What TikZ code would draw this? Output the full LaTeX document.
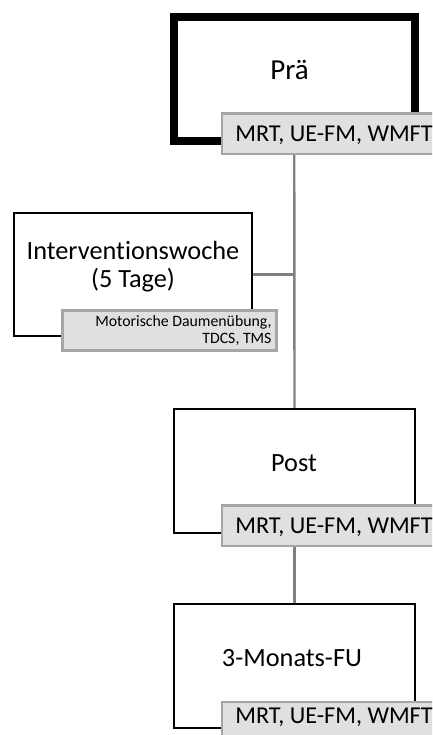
\documentclass[tikz,border=0pt]{standalone}
\usepackage{fontspec}
\setmainfont{Carlito}[Ligatures=NoCommon]
\definecolor{tagfill}{RGB}{224,224,224}
\definecolor{tagline}{RGB}{166,166,166}
\definecolor{linkgray}{RGB}{128,128,128}
\begin{document}
\begin{tikzpicture}[x=1pt,y=-1pt,
  phase/.style={draw=black, line width=2.2pt, fill=white, rectangle, inner sep=0pt,
    minimum width=241pt, minimum height=124pt},
  thickphase/.style={phase, line width=8pt},
  tag/.style={draw=tagline, line width=2.5pt, fill=tagfill, rectangle, inner sep=0pt,
    minimum width=224pt, minimum height=40.5pt},
  link/.style={draw=linkgray, line width=2.4pt},
  bigtext/.style={font=\fontsize{26.3}{28}\selectfont, inner sep=0pt, anchor=base},
  tagtext/.style={font=\fontsize{24.2}{26}\selectfont, inner sep=0pt, anchor=base},
  smalltext/.style={font=\fontsize{15.8}{16.4}\selectfont, inner sep=0pt}
]
\useasboundingbox (0,0) rectangle (432,735);
\clip (0,0) rectangle (432,735);

% phase boxes
\node[thickphase, minimum width=240.5pt, minimum height=124pt] (pre) at (294.25,78.8) {};
\node[phase, minimum width=238pt, minimum height=123pt] (iv) at (133,274.5) {};
\node[phase] (post) at (294.5,471) {};
\node[phase] (fu) at (294.5,666) {};

% connectors
\draw[link] (pre.south) -- (post.north);
\draw[link] (iv.east) -- (iv.east -| pre.south);
\draw[link] (post.south) -- (fu.north);

% box titles (multi-line nodes sit on the baseline of their last line)
\node[bigtext, font=\fontsize{29}{30}\selectfont] (pretxt) at (289.5,80) {Prä};
\node[bigtext, align=center] (ivtxt) at (133,287.3) {Interventionswoche\\(5 Tage)};
\node[bigtext] (posttxt) at (294,471.7) {Post};
\node[bigtext] (futxt) at (292,666.7) {3-Monats-FU};

% measurement tags
\node[tag] (pretag) at (334,133.75) {};
\node[tagtext] at (334,141.7) {MRT, UE-FM, WMFT};
\node[tag, minimum width=214.4pt, minimum height=40.4pt] (ivtag) at (169.5,330.5) {};
\node[smalltext, anchor=base east, align=right] at (271.7,343.1) {Motorische Daumenübung,\\TDCS, TMS};
\node[tag] (posttag) at (334,525.5) {};
\node[tagtext] at (334,533.2) {MRT, UE-FM, WMFT};
\node[tag] (futag) at (334,722.3) {};
\node[tagtext] at (334,723) {MRT, UE-FM, WMFT};
\end{tikzpicture}
\end{document}
